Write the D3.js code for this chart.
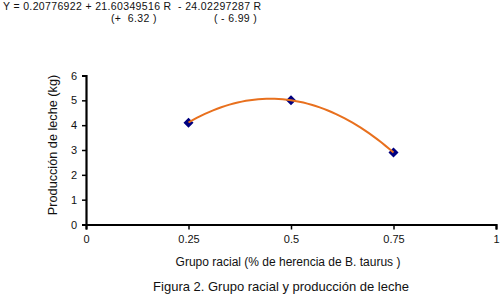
<!DOCTYPE html>
<html>
<head>
<meta charset="utf-8">
<script src="https://cdn.jsdelivr.net/npm/d3@7"></script>
<style>
  body { margin: 0; background: #fff; }
  svg text { font-family: "Liberation Sans", Arial, sans-serif; fill: #111; white-space: pre; }
</style>
</head>
<body>
<svg id="chart"></svg>
<script>
// datos
const grupos = [0.25, 0.5, 0.75];
const produccion = [4.1, 5.0, 2.9];
const xTicks = [0, 0.25, 0.5, 0.75, 1];
const xTickLabels = ["0", "0.25", "0.5", "0.75", "1"];
const yTicks = [0, 1, 2, 3, 4, 5, 6];
// coeficientes de la linea de tendencia (ecuacion del grafico)
const coefs = [0.20776922, 21.60349516, -24.02297287];

const svg = d3.select("#chart").attr("width", 500).attr("height", 304);

const x = d3.scaleLinear().domain([0, 1]).range([86, 496]);
const y = d3.scaleLinear().domain([0, 6]).range([224.5, 75.5]);

// ecuacion
const eq = svg.append("g").style("font-size", "10.5px").style("letter-spacing", "0.35px");
eq.append("text").attr("x", 3).attr("y", 10)
    .text("Y = 0.20776922 + 21.60349516 R  - 24.02297287 R");
eq.append("text").attr("x", 111).attr("y", 21.5)
    .text("(+  6.32 )");
eq.append("text").attr("x", 214).attr("y", 21.5)
    .text("( - 6.99 )");

// ejes
const xAxis = svg.append("g")
    .attr("transform", `translate(0,${y(0)})`)
    .call(d3.axisBottom(x).tickValues(xTicks).tickFormat((d, i) => xTickLabels[i]).tickSizeOuter(0).tickSize(5).tickPadding(6));
xAxis.select(".domain").attr("stroke-width", 2.2).attr("stroke", "#000");
xAxis.selectAll(".tick line").attr("stroke-width", 1.5).attr("stroke", "#000");
xAxis.selectAll("text").style("font-size", "11px").attr("fill", "#111");

const yAxis = svg.append("g")
    .attr("transform", `translate(${x(0)},0)`)
    .call(d3.axisLeft(y).tickValues(yTicks).tickFormat(d3.format("d")).tickSizeOuter(0).tickSize(4).tickPadding(5));
yAxis.select(".domain").attr("stroke-width", 2.2).attr("stroke", "#000");
yAxis.selectAll(".tick line").attr("stroke-width", 1.5).attr("stroke", "#000");
yAxis.selectAll("text").style("font-size", "11px").attr("fill", "#111");

// titulos de ejes
svg.append("text")
    .attr("transform", "translate(57,145) rotate(-90)")
    .attr("text-anchor", "middle")
    .style("font-size", "12.7px")
    .text("Producción de leche (kg)");

svg.append("text")
    .attr("x", 288).attr("y", 266)
    .attr("text-anchor", "middle")
    .style("font-size", "12px")
    .text("Grupo racial (% de herencia de B. taurus )");

svg.append("text")
    .attr("x", 281).attr("y", 291)
    .attr("text-anchor", "middle")
    .style("font-size", "13px")
    .text("Figura 2. Grupo racial y producción de leche");

// puntos
const puntos = grupos.map((g, i) => ({ g, v: produccion[i] }));
svg.selectAll(".punto")
    .data(puntos)
    .enter()
    .append("path")
    .attr("class", "punto")
    .attr("transform", d => `translate(${x(d.g)},${y(d.v)})`)
    .attr("d", d3.symbol(d3.symbolDiamond2, 40))
    .attr("fill", "#000080")
    .attr("stroke", "#000080")
    .attr("stroke-width", 1.5);

// linea de tendencia polinomica
const tendencia = d3.range(grupos[0], grupos[grupos.length - 1] + 0.0001, 0.01)
    .map(r => ({ g: r, v: coefs[0] + coefs[1] * r + coefs[2] * r * r }));
svg.append("path")
    .datum(tendencia)
    .attr("fill", "none")
    .attr("stroke", "#e8701e")
    .attr("stroke-width", 2)
    .attr("d", d3.line().x(d => x(d.g)).y(d => y(d.v)));
</script>
</body>
</html>
